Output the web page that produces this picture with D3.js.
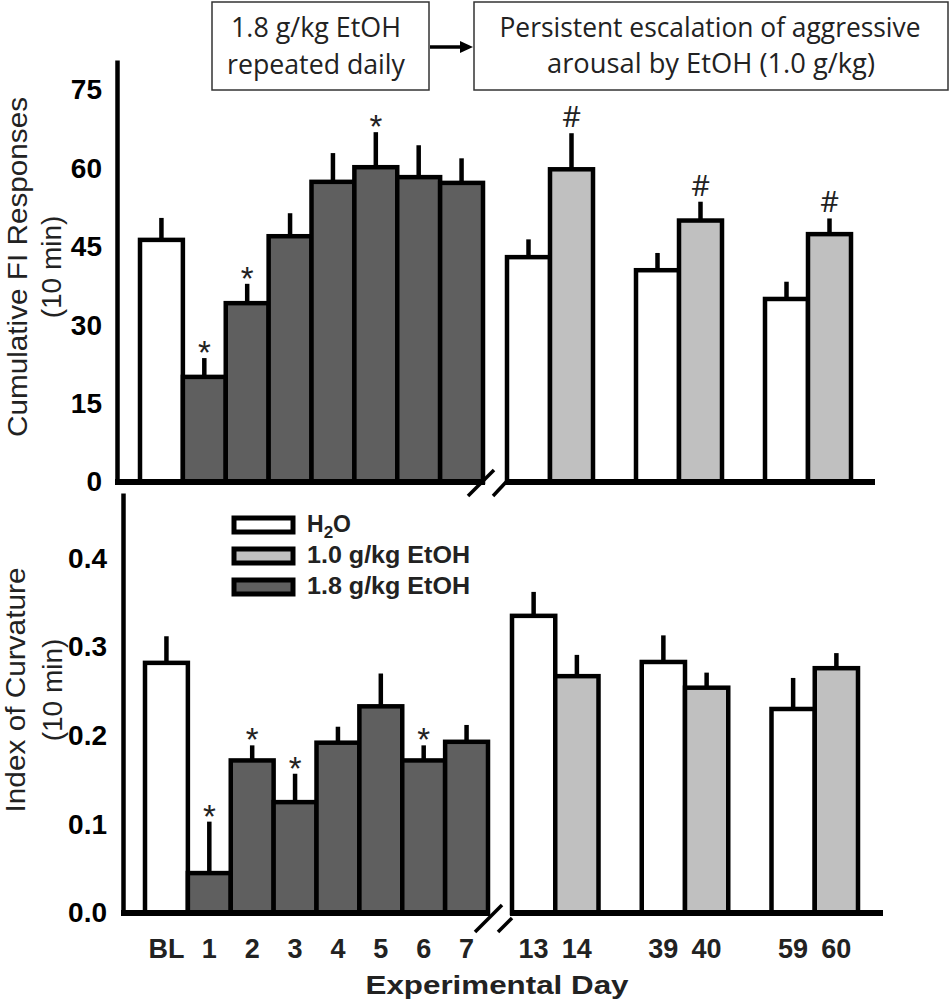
<!DOCTYPE html>
<html>
<head>
<meta charset="utf-8">
<script src="https://cdn.jsdelivr.net/npm/d3@7"></script>
<style>
  html, body { margin: 0; padding: 0; background: #fff; }
  svg { display: block; }
  text { font-family: "Liberation Sans", Arial, sans-serif; fill: #000; }
  .box text { font-family: "Open Sans", sans-serif; fill: #222; }
</style>
</head>
<body>
<svg id="chart" width="950" height="1006"></svg>
<script>
// ---------- data ----------
const leftDays   = ["BL", "1", "2", "3", "4", "5", "6", "7"];
const leftGroup  = ["H2O", "1.8", "1.8", "1.8", "1.8", "1.8", "1.8", "1.8"];
const rightDays  = ["13", "14", "39", "40", "59", "60"];
const rightGroup = ["H2O", "1.0", "H2O", "1.0", "H2O", "1.0"];
const rightSlots = ["13", "14", "gapA", "39", "40", "gapB", "59", "60"];

// Cumulative FI responses (10 min): mean and SEM
const fiLeft     = [46.3, 20.1, 34.2, 47.0, 57.4, 60.2, 58.3, 57.2];
const fiLeftErr  = [4.2, 3.6, 3.7, 4.4, 5.5, 6.7, 6.1, 4.7];
const fiLeftSig  = ["", "*", "*", "", "", "*", "", ""];
const fiRight    = [43.0, 59.8, 40.5, 50.0, 35.0, 47.4];
const fiRightErr = [3.4, 6.9, 3.3, 3.6, 3.3, 3.0];
const fiRightSig = ["", "#", "", "#", "", "#"];

// Index of curvature (10 min): mean and SEM
const icLeft     = [0.282, 0.045, 0.172, 0.125, 0.192, 0.233, 0.172, 0.193];
const icLeftErr  = [0.030, 0.058, 0.017, 0.032, 0.018, 0.037, 0.017, 0.019];
const icLeftSig  = ["", "*", "*", "*", "", "", "*", ""];
const icRight    = [0.335, 0.267, 0.283, 0.254, 0.230, 0.276];
const icRightErr = [0.027, 0.024, 0.030, 0.017, 0.035, 0.017];
const icRightSig = ["", "", "", "", "", ""];

const fiTicks = [0, 15, 30, 45, 60, 75];
const icTicks = [0, 0.1, 0.2, 0.3, 0.4];

const legendKeys   = ["H2O", "1.0", "1.8"];
const legendLabels = ["H2O", "1.0 g/kg EtOH", "1.8 g/kg EtOH"];

const boxLeftLines  = ["1.8 g/kg EtOH", "repeated daily"];
const boxRightLines = ["Persistent escalation of aggressive", "arousal by EtOH (1.0 g/kg)"];

const fiTitle = ["Cumulative FI Responses", "(10 min)"];
const icTitle = ["Index of Curvature", "(10 min)"];
const xTitle  = "Experimental Day";

// ---------- styles ----------
const fillColor = d3.scaleOrdinal().domain(["H2O", "1.0", "1.8"]).range(["#ffffff", "#c0c0c0", "#5f5f5f"]);
const BAR_SW = 4.5;

const svg = d3.select("#chart");

// ---------- panel builder ----------
function panel(opt) {
  const g = svg.append("g");
  const y = opt.y;
  const xl = d3.scaleBand().domain(leftDays).range(opt.leftRange).padding(0);
  const xr = d3.scaleBand().domain(rightSlots).range(opt.rightRange).padding(0);

  const leftData  = leftDays.map((d, i) => ({ key: d, x: xl(d), w: xl.bandwidth(), v: opt.left[i], e: opt.leftErr[i], s: opt.leftSig[i], grp: leftGroup[i] }));
  const rightData = rightDays.map((d, i) => ({ key: d, x: xr(d), w: xr.bandwidth(), v: opt.right[i], e: opt.rightErr[i], s: opt.rightSig[i], grp: rightGroup[i] }));
  const all = leftData.concat(rightData);

  // error bars (upper only)
  g.selectAll(".err").data(all).join("line")
    .attr("x1", d => d.x + d.w / 2).attr("x2", d => d.x + d.w / 2)
    .attr("y1", d => y(d.v)).attr("y2", d => y(d.v + d.e))
    .attr("stroke", "#000").attr("stroke-width", 4.5);

  // bars
  g.selectAll(".bar").data(all).join("rect")
    .attr("x", d => d.x).attr("width", d => d.w)
    .attr("y", d => y(d.v)).attr("height", d => y(0) - y(d.v))
    .attr("fill", d => fillColor(d.grp))
    .attr("stroke", "#000").attr("stroke-width", BAR_SW);

  // significance marks
  g.selectAll(".sig").data(all.filter(d => d.s)).join("text")
    .attr("x", d => d.x + d.w / 2)
    .attr("y", d => y(d.v + d.e) + (d.s === "*" ? 6 : -6))
    .attr("text-anchor", "middle")
    .style("font-family", d => d.s === "#" ? "'Open Sans', sans-serif" : "'Liberation Sans', Arial, sans-serif")
    .style("font-size", d => d.s === "#" ? "29px" : "33px")
    .style("fill", "#222")
    .text(d => d.s);

  // y axis
  const ax = g.append("g").attr("transform", `translate(${opt.axisX},0)`)
    .call(d3.axisLeft(y).tickValues(opt.ticks).tickFormat(opt.fmt).tickSize(0).tickSizeOuter(0).tickPadding(opt.pad));
  ax.select(".domain").attr("stroke", "#000").attr("stroke-width", 4.5);
  ax.selectAll(".tick text").style("font-family", "'Liberation Sans', Arial, sans-serif")
    .style("font-size", opt.tickFont).style("font-weight", "bold").attr("fill", "#111");

  // x axis segments
  const y0 = y(0);
  g.append("line").attr("x1", opt.axisX - 2).attr("x2", opt.leftRange[1] + opt.leftExt)
    .attr("y1", y0).attr("y2", y0).attr("stroke", "#000").attr("stroke-width", 6);
  g.append("line").attr("x1", opt.rightRange[0] - 2).attr("x2", opt.rightRange[1] + opt.rightExt)
    .attr("y1", y0).attr("y2", y0).attr("stroke", "#000").attr("stroke-width", 6);

  // break slashes
  opt.slashes.forEach(s => {
    g.append("line").attr("x1", s[0]).attr("y1", s[1]).attr("x2", s[2]).attr("y2", s[3])
      .attr("stroke", "#000").attr("stroke-width", 3.5);
  });

  // title
  const tt = g.append("g").attr("transform", `translate(0,${opt.titleY})`);
  tt.append("text").attr("transform", `translate(${opt.titleX[0]},0) rotate(-90)`)
    .attr("text-anchor", "middle").style("font-size", opt.titleFont)
    .attr("textLength", opt.titleLen).attr("lengthAdjust", "spacingAndGlyphs")
    .style("fill", "#222").text(opt.title[0]);
  tt.append("text").attr("transform", `translate(${opt.titleX[1]},0) rotate(-90)`)
    .attr("text-anchor", "middle").style("font-size", opt.titleFont)
    .style("fill", "#222").text(opt.title[1]);

  return { xl, xr, y };
}

// ---------- top panel ----------
const yTop = d3.scaleLinear().domain([0, 80.7]).range([482, 60]);
panel({
  y: yTop, left: fiLeft, leftErr: fiLeftErr, leftSig: fiLeftSig,
  right: fiRight, rightErr: fiRightErr, rightSig: fiRightSig,
  leftRange: [140, 483], rightRange: [507, 851],
  axisX: 117, ticks: fiTicks, fmt: d3.format("d"), pad: 15, tickFont: "28px",
  leftExt: 2, rightExt: 24,
  slashes: [[468, 496, 494, 470], [493, 496, 507, 481]],
  title: fiTitle, titleX: [27, 61], titleY: 267, titleFont: "28px", titleLen: 340
});

// ---------- bottom panel ----------
const yBot = d3.scaleLinear().domain([0, 0.4735]).range([913, 493]);
const bot = panel({
  y: yBot, left: icLeft, leftErr: icLeftErr, leftSig: icLeftSig,
  right: icRight, rightErr: icRightErr, rightSig: icRightSig,
  leftRange: [145, 488], rightRange: [512, 858],
  axisX: 123, ticks: icTicks, fmt: d3.format(".1f"), pad: 16, tickFont: "28px",
  leftExt: 2, rightExt: 25,
  slashes: [[475, 932, 502, 905], [498, 932, 512, 918]],
  title: icTitle, titleX: [25, 62], titleY: 690, titleFont: "28px", titleLen: 245
});

// x tick labels (bottom panel)
const xlab = svg.append("g").style("font-weight", "bold").style("font-size", "27px");
xlab.selectAll(".xl").data(leftDays).join("text")
  .attr("x", d => bot.xl(d) + bot.xl.bandwidth() / 2).attr("y", 958)
  .attr("text-anchor", "middle").style("fill", "#222").text(d => d);
xlab.selectAll(".xr").data(rightDays).join("text")
  .attr("x", d => bot.xr(d) + bot.xr.bandwidth() / 2).attr("y", 958)
  .attr("text-anchor", "middle").style("fill", "#222").text(d => d);

svg.append("text").attr("x", 497).attr("y", 994).attr("text-anchor", "middle")
  .style("font-weight", "bold").style("font-size", "26px").style("fill", "#222")
  .attr("textLength", 263).attr("lengthAdjust", "spacingAndGlyphs")
  .text(xTitle);

// ---------- legend ----------
const legY = [518, 549, 580];
const leg = svg.append("g");
legendKeys.forEach((k, i) => {
  leg.append("rect").attr("x", 234).attr("y", legY[i]).attr("width", 59).attr("height", 14)
    .attr("fill", fillColor(k)).attr("stroke", "#000").attr("stroke-width", 5);
  const t = leg.append("text").attr("x", 307).attr("y", legY[i] + 14)
    .style("font-weight", "bold").style("font-size", "23px").style("fill", "#222");
  if (k === "H2O") {
    t.append("tspan").text("H");
    t.append("tspan").attr("dy", 6).style("font-size", "17px").text("2");
    t.append("tspan").attr("dy", -6).text("O");
  } else {
    t.attr("textLength", 163).attr("lengthAdjust", "spacingAndGlyphs").text(legendLabels[i]);
  }
});

// ---------- annotation boxes ----------
const box = svg.append("g").attr("class", "box");
box.append("rect").attr("x", 212).attr("y", 2).attr("width", 217).attr("height", 88)
  .attr("fill", "#fff").attr("stroke", "#333").attr("stroke-width", 1.5);
box.append("rect").attr("x", 474).attr("y", 2).attr("width", 474).attr("height", 88)
  .attr("fill", "#fff").attr("stroke", "#333").attr("stroke-width", 1.5);
const bl = [[316, 37, 170], [316, 74, 178]];
boxLeftLines.forEach((s, i) => {
  box.append("text").attr("x", bl[i][0]).attr("y", bl[i][1]).attr("text-anchor", "middle")
    .style("font-size", "27px").attr("textLength", bl[i][2]).attr("lengthAdjust", "spacingAndGlyphs").text(s);
});
const br = [[710, 37, 421], [711, 73, 328]];
boxRightLines.forEach((s, i) => {
  box.append("text").attr("x", br[i][0]).attr("y", br[i][1]).attr("text-anchor", "middle")
    .style("font-size", "27px").attr("textLength", br[i][2]).attr("lengthAdjust", "spacingAndGlyphs").text(s);
});
// arrow
box.append("line").attr("x1", 430).attr("x2", 462).attr("y1", 47).attr("y2", 47)
  .attr("stroke", "#000").attr("stroke-width", 3.5);
box.append("path").attr("d", "M460,41 L473,47 L460,53 Z").attr("fill", "#000");
</script>
</body>
</html>
